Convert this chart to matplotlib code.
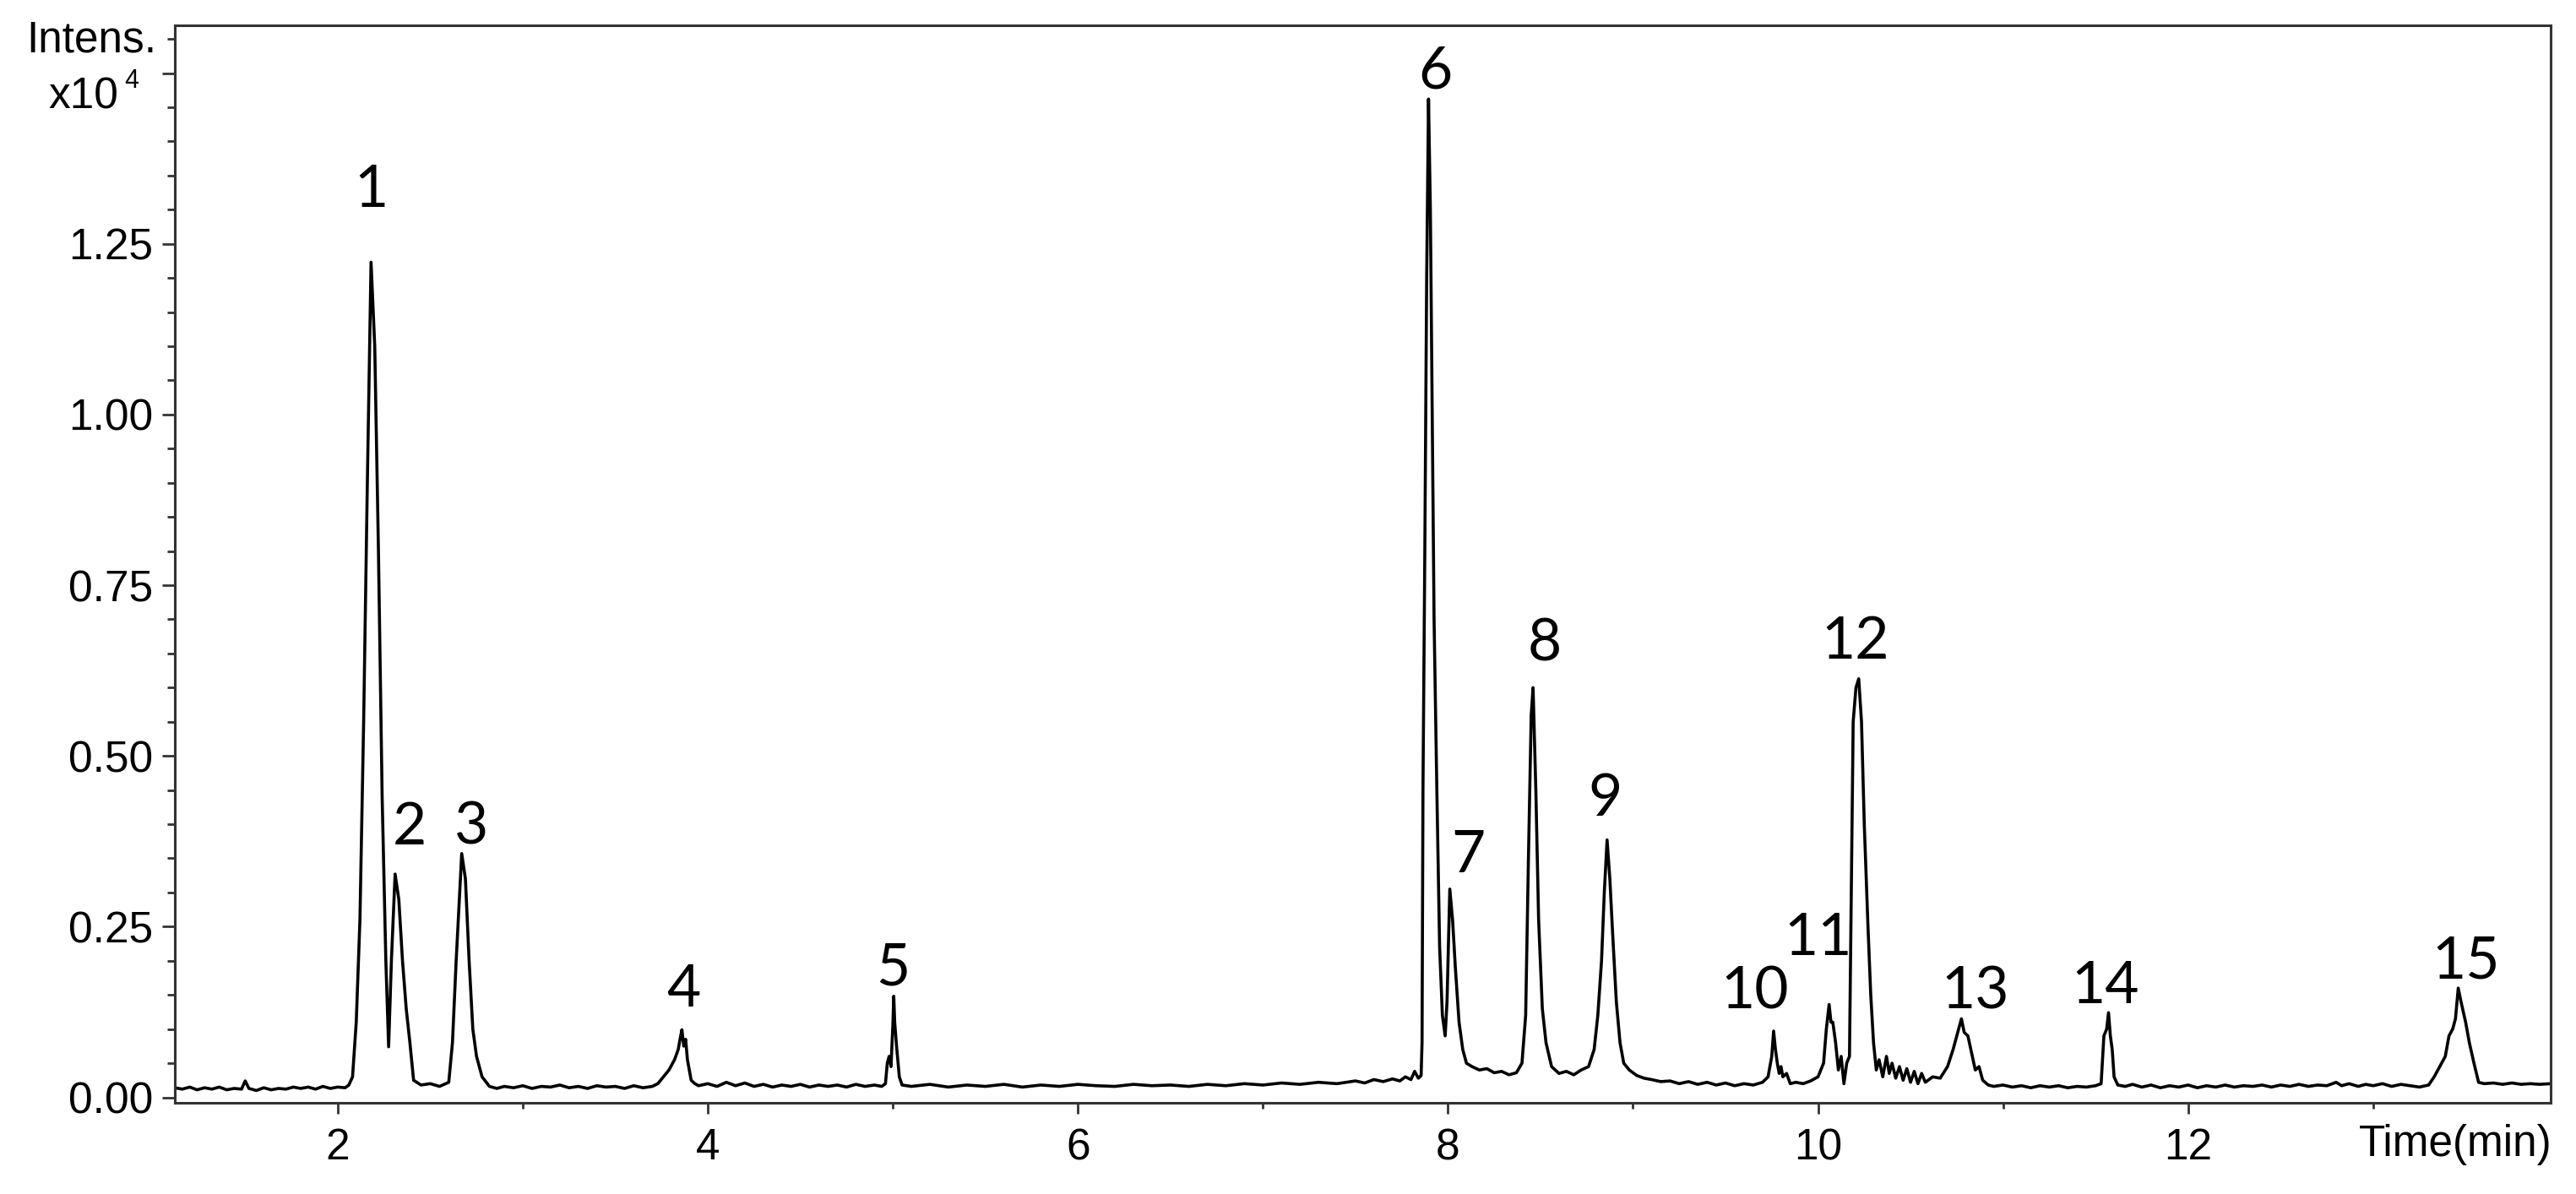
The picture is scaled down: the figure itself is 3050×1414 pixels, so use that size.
import matplotlib
matplotlib.use("Agg")
import matplotlib.pyplot as plt
from matplotlib.ticker import MultipleLocator, FixedLocator, FixedFormatter

# Chromatogram trace: time (min) and intensity (x10^4)
time_min = [
    1.12, 1.16, 1.20, 1.24, 1.28, 1.32, 1.36, 1.40, 1.44, 1.48, 1.50, 1.52, 1.56, 1.60,
    1.64, 1.68, 1.72, 1.76, 1.80, 1.84, 1.88, 1.92, 1.96, 2.00, 2.04, 2.06,
    # peaks 1-3
    2.08, 2.10, 2.12, 2.14, 2.16, 2.18, 2.20, 2.22, 2.24, 2.26, 2.275, 2.29, 2.31, 2.33,
    2.35, 2.37, 2.39, 2.41, 2.45, 2.50, 2.55, 2.60, 2.62, 2.64, 2.67, 2.69, 2.71, 2.73,
    2.75, 2.78,
    2.82, 2.86, 2.90, 2.95, 3.00, 3.05, 3.10, 3.15, 3.20, 3.25, 3.30, 3.35, 3.40, 3.45,
    3.50, 3.55, 3.60, 3.65, 3.70,
    # peak 4
    3.73, 3.76, 3.79, 3.82, 3.84, 3.85, 3.86, 3.87, 3.88, 3.89, 3.91, 3.93, 3.95,
    4.00, 4.05, 4.10, 4.15, 4.20, 4.25, 4.30, 4.35, 4.40, 4.45, 4.50, 4.55, 4.60, 4.65,
    4.70, 4.75, 4.80, 4.85, 4.90, 4.94,
    # peak 5
    4.96, 4.97, 4.98, 4.99, 5.00, 5.005, 5.01, 5.02, 5.035, 5.05,
    5.10, 5.20, 5.30, 5.40, 5.50, 5.60, 5.70, 5.80, 5.90, 6.00, 6.10, 6.20, 6.30, 6.40,
    6.50, 6.60, 6.70, 6.80, 6.90, 7.00, 7.10, 7.20, 7.30, 7.40, 7.50, 7.55, 7.60, 7.65,
    7.70, 7.74, 7.77, 7.80, 7.82, 7.84, 7.855,
    # peaks 6-9
    7.86, 7.865, 7.875, 7.885, 7.895, 7.905, 7.915, 7.925, 7.94, 7.955, 7.97, 7.985,
    7.995, 8.01, 8.025, 8.04, 8.06, 8.08, 8.10, 8.13, 8.17, 8.21, 8.25, 8.29, 8.33, 8.37,
    8.40, 8.42, 8.435, 8.45, 8.46, 8.475, 8.49, 8.51, 8.53, 8.56, 8.60, 8.64, 8.68, 8.72,
    8.76, 8.79, 8.81, 8.83, 8.845, 8.86, 8.875, 8.89, 8.91, 8.93, 8.95, 8.98, 9.02, 9.06,
    9.10, 9.15,
    9.20, 9.25, 9.30, 9.35, 9.40, 9.45, 9.50, 9.55, 9.60, 9.65, 9.70, 9.73,
    # peaks 10-13
    9.75, 9.76, 9.77, 9.78, 9.79, 9.80, 9.81, 9.83, 9.85, 9.88, 9.92, 9.96, 10.00, 10.03,
    10.045, 10.06, 10.07, 10.08, 10.095, 10.11, 10.125, 10.14, 10.155, 10.17, 10.18,
    10.19, 10.205, 10.22, 10.235, 10.25, 10.27, 10.285, 10.30, 10.315, 10.33, 10.35,
    10.37, 10.385, 10.40, 10.42, 10.44, 10.46, 10.48, 10.50, 10.52, 10.54, 10.56, 10.58,
    10.62, 10.66, 10.70, 10.73, 10.76, 10.775, 10.79, 10.81, 10.83, 10.85, 10.87, 10.89,
    10.92,
    10.95, 11.00, 11.05, 11.10, 11.15, 11.20, 11.25, 11.30, 11.35, 11.40, 11.45, 11.50,
    # peak 14
    11.53, 11.545, 11.56, 11.57, 11.58, 11.59, 11.60, 11.62,
    11.66, 11.70, 11.75, 11.80, 11.85, 11.90, 11.95, 12.00, 12.05, 12.10, 12.15, 12.20,
    12.25, 12.30, 12.35, 12.40, 12.45, 12.50, 12.55, 12.60, 12.65, 12.70, 12.75, 12.80,
    12.83, 12.87, 12.92, 12.96, 13.00, 13.05, 13.10, 13.15, 13.20, 13.25, 13.30,
    # peak 15
    13.33, 13.36, 13.39, 13.41, 13.43, 13.445, 13.46, 13.475, 13.50, 13.52, 13.545,
    13.57, 13.60, 13.65, 13.70, 13.75, 13.80, 13.85, 13.90, 13.96,
]

intensity = [
    0.014, 0.012, 0.015, 0.011, 0.014, 0.012, 0.015, 0.011, 0.013, 0.012, 0.024, 0.013,
    0.010, 0.014, 0.011, 0.013, 0.012, 0.015, 0.013, 0.015, 0.012, 0.016, 0.013, 0.015,
    0.014, 0.018,
    0.030, 0.110, 0.260, 0.550, 0.900, 1.223, 1.100, 0.800, 0.440, 0.200, 0.074, 0.200,
    0.327, 0.290, 0.200, 0.130, 0.080, 0.025, 0.018, 0.020, 0.016, 0.022, 0.080, 0.200,
    0.357, 0.320, 0.200, 0.100, 0.060, 0.030,
    0.016, 0.013, 0.016, 0.014, 0.017, 0.013, 0.016, 0.015, 0.018, 0.014, 0.016, 0.013,
    0.017, 0.015, 0.016, 0.013, 0.017, 0.014, 0.016,
    0.020, 0.030, 0.040, 0.055, 0.070, 0.085, 0.099, 0.075, 0.085, 0.055, 0.025, 0.020,
    0.017,
    0.020, 0.016, 0.022, 0.017, 0.021, 0.016, 0.019, 0.015, 0.018, 0.016, 0.019, 0.015,
    0.018, 0.016, 0.018, 0.015, 0.019, 0.016, 0.018, 0.016,
    0.020, 0.050, 0.060, 0.045, 0.105, 0.148, 0.110, 0.075, 0.030, 0.018,
    0.016, 0.019, 0.015, 0.018, 0.016, 0.019, 0.015, 0.018, 0.016, 0.019, 0.017, 0.016,
    0.019, 0.017, 0.018, 0.016, 0.019, 0.017, 0.020, 0.018, 0.021, 0.019, 0.022, 0.020,
    0.024, 0.021, 0.026, 0.023, 0.027, 0.024, 0.030, 0.026, 0.038, 0.028, 0.032,
    0.080, 0.450, 0.800, 1.200, 1.462, 1.300, 1.000, 0.700, 0.450, 0.220, 0.120, 0.090,
    0.140, 0.305, 0.260, 0.190, 0.110, 0.070, 0.050, 0.045, 0.040, 0.042, 0.036, 0.038,
    0.033, 0.036, 0.050, 0.120, 0.350, 0.560, 0.600, 0.450, 0.260, 0.130, 0.080, 0.045,
    0.035, 0.038, 0.033, 0.040, 0.045, 0.070, 0.120, 0.200, 0.300, 0.377, 0.320, 0.240,
    0.140, 0.080, 0.050, 0.040, 0.032, 0.028, 0.026, 0.023,
    0.024, 0.020, 0.023, 0.019, 0.022, 0.018, 0.021, 0.017, 0.020, 0.018, 0.022, 0.030,
    0.060, 0.097, 0.070, 0.050, 0.035, 0.045, 0.030, 0.035, 0.020, 0.022, 0.020, 0.024,
    0.030, 0.050, 0.100, 0.136, 0.110, 0.110, 0.080, 0.040, 0.060, 0.020, 0.050, 0.060,
    0.300, 0.550, 0.600, 0.613, 0.550, 0.400, 0.250, 0.150, 0.080, 0.040, 0.055, 0.030,
    0.060, 0.035, 0.050, 0.028, 0.045, 0.025, 0.042, 0.022, 0.038, 0.020, 0.035, 0.022,
    0.030, 0.028, 0.045, 0.070, 0.100, 0.115, 0.095, 0.090, 0.065, 0.040, 0.045, 0.025,
    0.018,
    0.016, 0.018, 0.015, 0.017, 0.014, 0.017, 0.015, 0.017, 0.014, 0.016, 0.015, 0.017,
    0.020, 0.090, 0.100, 0.124, 0.090, 0.070, 0.030, 0.018,
    0.016, 0.019, 0.015, 0.018, 0.014, 0.017, 0.015, 0.018, 0.014, 0.017, 0.015, 0.018,
    0.015, 0.017, 0.016, 0.018, 0.015, 0.018, 0.016, 0.019, 0.016, 0.018, 0.017, 0.022,
    0.017, 0.020, 0.016, 0.019, 0.017, 0.020, 0.016, 0.019, 0.017, 0.015, 0.018,
    0.030, 0.045, 0.060, 0.090, 0.100, 0.115, 0.160, 0.140, 0.110, 0.080, 0.050, 0.022,
    0.020, 0.021, 0.019, 0.021, 0.019, 0.020, 0.019, 0.020,
]

# Peak numbers and where their labels sit (time, intensity)
peak_labels = ["1", "2", "3", "4", "5", "6", "7", "8", "9", "10", "11", "12", "13", "14", "15"]
label_time = [2.18, 2.39, 2.72, 3.87, 5.00, 7.93, 8.11, 8.52, 8.85, 9.66, 10.00, 10.20, 10.85, 11.55, 13.50]
label_int = [1.328, 0.395, 0.395, 0.157, 0.188, 1.502, 0.354, 0.664, 0.437, 0.154, 0.232, 0.667, 0.154, 0.162, 0.198]

y_ticks = [0.0, 0.25, 0.5, 0.75, 1.0, 1.25, 1.5]
y_tick_labels = ["0.00", "0.25", "0.50", "0.75", "1.00", "1.25", ""]
x_ticks = [2, 4, 6, 8, 10, 12]

axis_color = "#333333"
tick_font = "Liberation Sans"

fig = plt.figure(figsize=(15.25, 7.07), dpi=200)
ax = fig.add_axes([0.0679, 0.0764, 0.9223, 0.9024])

# The trace
ax.plot(time_min, intensity, color="black", linewidth=1.3)

# Peak numbers
for lab, t, v in zip(peak_labels, label_time, label_int):
    ax.text(t, v, lab, ha="center", va="center", fontsize=25, family="Lato", color="black")

# Axes limits and ticks
ax.set_xlim(1.12, 13.96)
ax.set_ylim(-0.008, 1.57)
ax.xaxis.set_major_locator(FixedLocator(x_ticks))
ax.xaxis.set_minor_locator(MultipleLocator(1))
ax.yaxis.set_major_locator(FixedLocator(y_ticks))
ax.yaxis.set_major_formatter(FixedFormatter(y_tick_labels))
ax.yaxis.set_minor_locator(MultipleLocator(0.05))

ax.tick_params(which="major", direction="out", length=5.4, width=1.0, color=axis_color,
               labelsize=18.5, pad=4)
ax.tick_params(which="minor", direction="out", length=3.4, width=1.0, color=axis_color)
ax.tick_params(axis="x", which="major", length=4.5, pad=6)
ax.tick_params(axis="x", which="minor", length=2.5)
for lbl in ax.get_xticklabels() + ax.get_yticklabels():
    lbl.set_family(tick_font)

for spine in ax.spines.values():
    spine.set_color(axis_color)
    spine.set_linewidth(1.1)

# Axis titles placed like the instrument software
fig.text(0.0607, 0.966, "Intens.", ha="right", va="center", fontsize=18.5, family=tick_font)
fig.text(0.0459, 0.9187, "x10", ha="right", va="center", fontsize=18.5, family=tick_font)
fig.text(0.0482, 0.932, "4", ha="left", va="center", fontsize=11, family=tick_font)
fig.text(0.9908, 0.0417, "Time(min)", ha="right", va="center", fontsize=18.5, family=tick_font)

fig.savefig("out.png", dpi=200, facecolor="white")
